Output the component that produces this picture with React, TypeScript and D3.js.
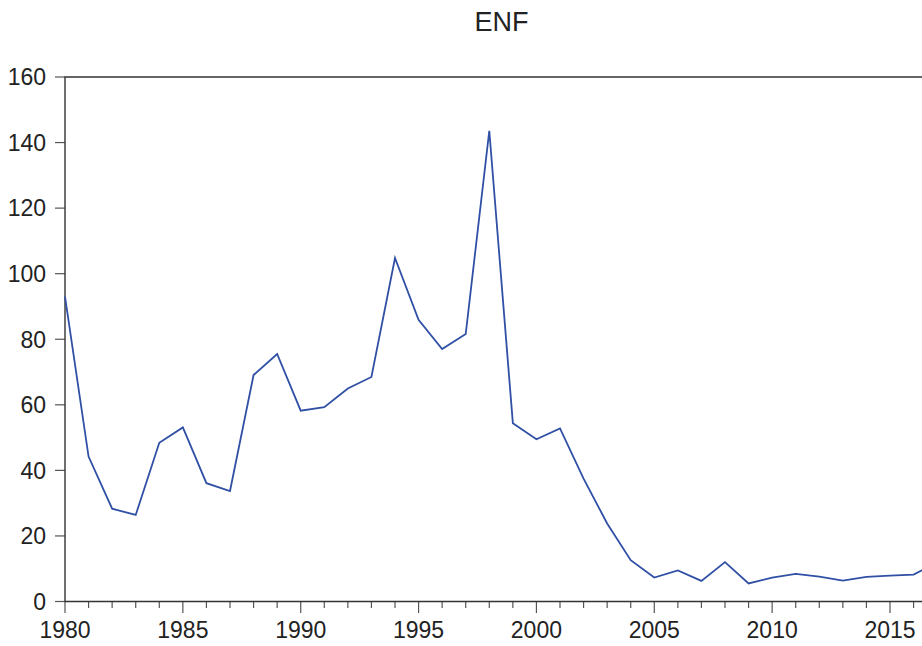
import React, { useEffect, useRef } from "react";
import * as d3 from "d3";

const years = [
  1980, 1981, 1982, 1983, 1984, 1985, 1986, 1987, 1988, 1989,
  1990, 1991, 1992, 1993, 1994, 1995, 1996, 1997, 1998, 1999,
  2000, 2001, 2002, 2003, 2004, 2005, 2006, 2007, 2008, 2009,
  2010, 2011, 2012, 2013, 2014, 2015, 2016, 2017,
];
const enf = [
  93.0, 44.2, 28.3, 26.4, 48.4, 53.1, 36.1, 33.7, 69.1, 75.5,
  58.2, 59.3, 65.0, 68.5, 104.8, 85.9, 77.0, 81.6, 143.6, 54.4,
  49.5, 52.8, 37.5, 23.8, 12.6, 7.3, 9.5, 6.3, 12.0, 5.5,
  7.3, 8.4, 7.6, 6.4, 7.5, 7.9, 8.2, 12.0,
];
const yTicks = [0, 20, 40, 60, 80, 100, 120, 140, 160];
const xLabels = [1980, 1985, 1990, 1995, 2000, 2005, 2010, 2015];

const W = 922,
  H = 646;

const App = () => {
  const svgRef = useRef<SVGSVGElement>(null);

  useEffect(() => {
    const svg = d3.select(svgRef.current);
    svg.selectAll("*").remove();

    const left = 65,
      top = 77,
      bottom = 601.5;
    const pxYear = (890 - 65) / 35;

    const x = d3
      .scaleLinear()
      .domain([1980, 2018])
      .range([left, left + pxYear * 38]);
    const y = d3.scaleLinear().domain([0, 160]).range([bottom, top]);

    const font = "'Liberation Sans', Arial, sans-serif";

    svg
      .append("text")
      .attr("x", 501.5)
      .attr("y", 31)
      .attr("text-anchor", "middle")
      .attr("font-family", font)
      .attr("font-size", 27)
      .attr("fill", "#222")
      .text("ENF");

    // left ticks
    const gy = svg.append("g");
    gy.selectAll("line")
      .data(yTicks)
      .enter()
      .append("line")
      .attr("x1", left - 10)
      .attr("x2", left)
      .attr("y1", (d) => y(d))
      .attr("y2", (d) => y(d))
      .attr("stroke", "#555")
      .attr("stroke-width", 1.2);
    gy.selectAll("text")
      .data(yTicks)
      .enter()
      .append("text")
      .attr("x", left - 19)
      .attr("y", (d) => y(d) + 8.3)
      .attr("text-anchor", "end")
      .attr("font-family", font)
      .attr("font-size", 23)
      .attr("fill", "#222")
      .text((d) => d);

    // bottom ticks
    const gx = svg.append("g");
    gx.selectAll("line")
      .data(years)
      .enter()
      .append("line")
      .attr("x1", (d) => x(d))
      .attr("x2", (d) => x(d))
      .attr("y1", bottom)
      .attr("y2", (d) => (d % 5 === 0 ? bottom + 11.5 : bottom + 6.5))
      .attr("stroke", "#555")
      .attr("stroke-width", 1.2);
    gx.selectAll("text")
      .data(xLabels)
      .enter()
      .append("text")
      .attr("x", (d) => x(d))
      .attr("y", 637.5)
      .attr("text-anchor", "middle")
      .attr("font-family", font)
      .attr("font-size", 23)
      .attr("fill", "#222")
      .text((d) => d);

    // frame
    svg
      .append("path")
      .attr("d", `M${W + 2},${top}H${left}V${bottom}H${W + 2}`)
      .attr("fill", "none")
      .attr("stroke", "#333")
      .attr("stroke-width", 1.4);

    const line = d3
      .line<number>()
      .x((d, i) => x(years[i]))
      .y((d) => y(d));

    svg
      .append("path")
      .datum(enf)
      .attr("d", line)
      .attr("fill", "none")
      .attr("stroke", "#3050A5")
      .attr("stroke-width", 1.8)
      .attr("stroke-linejoin", "miter");
  }, []);

  return (
    <svg
      ref={svgRef}
      width={W}
      height={H}
      style={{ position: "fixed", left: 0, top: 0, background: "#fff" }}
    ></svg>
  );
};

export default App;
